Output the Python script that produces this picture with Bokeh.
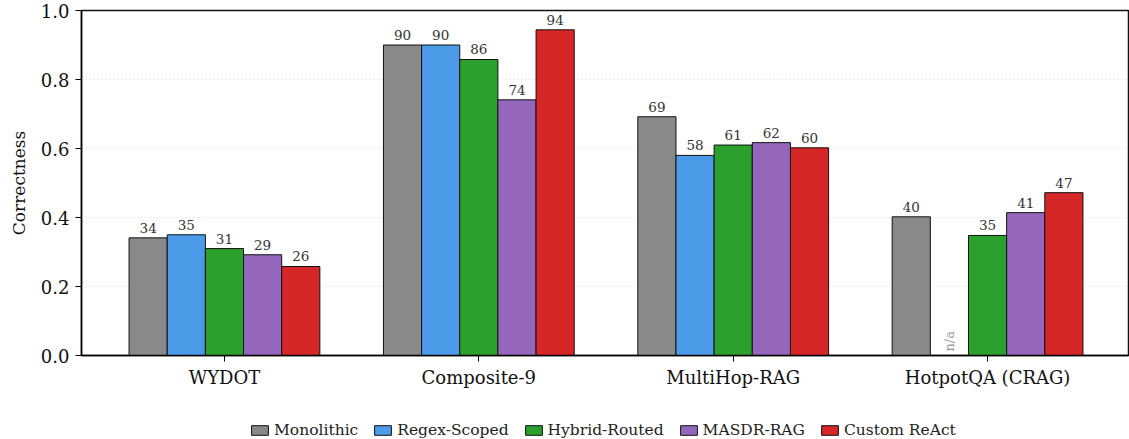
import math
from bokeh.plotting import figure
from bokeh.layouts import column
from bokeh.models import ColumnDataSource, FixedTicker, Legend, LegendItem, Range1d
from bokeh.core.properties import value
from bokeh.embed import file_html
from bokeh.resources import INLINE

datasets = ["WYDOT", "Composite-9", "MultiHop-RAG", "HotpotQA (CRAG)"]
methods = ["Monolithic", "Regex-Scoped", "Hybrid-Routed", "MASDR-RAG", "Custom ReAct"]
colors = ["#898989", "#4c9be8", "#2ca02c", "#9467bd", "#d62728"]
monolithic = [0.341, 0.900, 0.692, 0.402]
regex_scoped = [0.350, 0.900, 0.580, None]
hybrid_routed = [0.310, 0.858, 0.610, 0.348]
masdr_rag = [0.292, 0.741, 0.617, 0.414]
custom_react = [0.258, 0.944, 0.602, 0.472]
series = [monolithic, regex_scoped, hybrid_routed, masdr_rag, custom_react]
y_ticks = [0.0, 0.2, 0.4, 0.6, 0.8, 1.0]

FONT = "DejaVu Serif"
bar_w = 0.15
offsets = [-0.3, -0.15, 0.0, 0.15, 0.3]

p = figure(width=1129, height=399, output_backend="svg", toolbar_location=None,
           x_range=Range1d(-0.562, 3.554), y_range=Range1d(0, 1.0),
           min_border_left=81, min_border_right=1, min_border_top=10, min_border_bottom=44)

for i, (name, vals, col) in enumerate(zip(methods, series, colors)):
    xs, tops, labels = [], [], []
    for g, v in enumerate(vals):
        if v is None:
            continue
        xs.append(g + offsets[i])
        tops.append(v)
        labels.append(str(int(round(v * 100))))
    src = ColumnDataSource(dict(x=xs, top=tops, lab=labels))
    p.vbar(x="x", top="top", width=bar_w, bottom=0, source=src,
           fill_color=col, line_color="#111111", line_width=1)
    p.text(x="x", y="top", text="lab", source=src, text_align="center",
           text_baseline="bottom", y_offset=-5, text_font=value(FONT),
           text_font_size="13.5px", text_color="#333333")

# n/a marker for missing value
na_src = ColumnDataSource(dict(x=[3 + offsets[1]], y=[0.0], t=["n/a"]))
p.text(x="x", y="y", text="t", source=na_src, angle=math.pi / 2, text_align="left",
       text_baseline="middle", x_offset=0, y_offset=-4, text_font=value(FONT),
       text_font_size="13px", text_color="#999999")

p.xaxis.ticker = FixedTicker(ticks=[0, 1, 2, 3])
p.xaxis.major_label_overrides = {0: datasets[0], 1: datasets[1], 2: datasets[2], 3: datasets[3]}
p.xaxis.minor_tick_line_color = None
p.xaxis.major_tick_in = 0
p.xaxis.major_tick_out = 6
p.xaxis.major_label_text_font = FONT
p.xaxis.major_label_text_font_size = "18px"
p.xaxis.major_label_text_color = "#111111"
p.xaxis.axis_line_width = 1.5
p.xaxis.major_label_standoff = 5

p.yaxis.ticker = FixedTicker(ticks=y_ticks)
p.yaxis.major_label_overrides = {t: f"{t:.1f}" for t in y_ticks}
p.yaxis.minor_tick_line_color = None
p.yaxis.major_tick_in = 0
p.yaxis.major_tick_out = 6
p.yaxis.major_label_text_font = FONT
p.yaxis.major_label_text_font_size = "18px"
p.yaxis.major_label_text_color = "#111111"
p.yaxis.major_label_standoff = 6
p.yaxis.axis_line_width = 1.5
p.yaxis.axis_label = "Correctness"
p.yaxis.axis_label_text_font = FONT
p.yaxis.axis_label_text_font_style = "normal"
p.yaxis.axis_label_text_font_size = "17px"
p.yaxis.axis_label_text_color = "#111111"
p.yaxis.axis_label_standoff = 9

p.xgrid.grid_line_color = None
p.ygrid.grid_line_color = "#d8d8d8"
p.ygrid.grid_line_dash = "1 3"
p.ygrid.grid_line_width = 1

p.outline_line_color = "#111111"
p.outline_line_width = 1.5

# legend placed in its own strip under the chart
lg = figure(width=1129, height=40, output_backend="svg", toolbar_location=None,
            x_range=Range1d(0, 1), y_range=Range1d(0, 1),
            x_axis_location=None, y_axis_location=None,
            min_border=0, outline_line_color=None)
lg.grid.grid_line_color = None
items = []
for name, col in zip(methods, colors):
    r = lg.vbar(x=[-5.0], top=[-5.0], bottom=[-6.0], width=0.1,
                fill_color=col, line_color="#111111", line_width=1)
    items.append(LegendItem(label=name, renderers=[r]))
legend = Legend(items=items, orientation="horizontal", location=(168, 0),
                label_text_font=FONT, label_text_font_size="15.5px",
                label_text_color="#222222", border_line_color=None,
                background_fill_alpha=0,
                glyph_width=21, glyph_height=12, spacing=14, label_standoff=4,
                margin=0, padding=2)
lg.add_layout(legend, "center")

layout = column(p, lg, spacing=0)
open("out.html", "w").write(file_html(layout, INLINE))
